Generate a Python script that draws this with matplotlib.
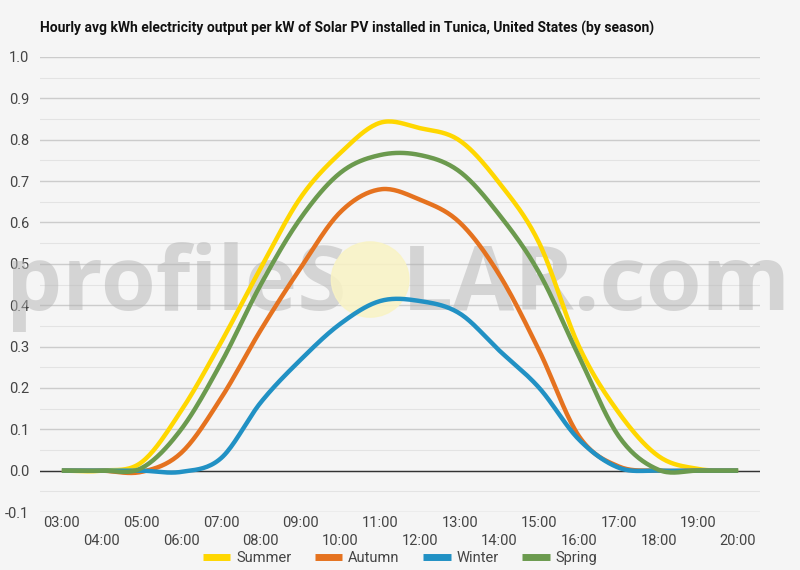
import numpy as np
import matplotlib
matplotlib.use("Agg")
import matplotlib.pyplot as plt
from matplotlib.patches import Ellipse

plt.rcParams['font.family'] = ['Roboto', 'DejaVu Sans']

hours = list(range(3, 21))
hour_labels = [f"{h:02d}:00" for h in hours]
summer = [0.0, 0.0, 0.02, 0.145, 0.31, 0.49, 0.66, 0.768, 0.841, 0.828, 0.798, 0.695, 0.55, 0.30, 0.14, 0.035, 0.004, 0.0]
autumn = [0.0, 0.0, -0.003, 0.043, 0.175, 0.34, 0.49, 0.625, 0.68, 0.655, 0.60, 0.473, 0.29, 0.083, 0.01, 0.0, 0.0, 0.0]
winter = [0.0, 0.0, 0.0, -0.003, 0.03, 0.165, 0.268, 0.355, 0.41, 0.41, 0.38, 0.29, 0.20, 0.075, 0.007, 0.0, 0.0, 0.0]
spring = [0.0, 0.0, 0.006, 0.10, 0.26, 0.45, 0.61, 0.72, 0.763, 0.763, 0.723, 0.618, 0.478, 0.276, 0.083, 0.002, 0.0, 0.0]
series_names = ["Summer", "Autumn", "Winter", "Spring"]
series_colors = ["#ffd700", "#e5721f", "#2191c4", "#6b9a4e"]
title = "Hourly avg kWh electricity output per kW of Solar PV installed in Tunica, United States (by season)"


def smooth(x, y, n=20):
    x = np.asarray(x, float)
    y = np.asarray(y, float)
    xp = np.concatenate([[2 * x[0] - x[1]], x, [2 * x[-1] - x[-2]]])
    yp = np.concatenate([[y[0]], y, [y[-1]]])
    xs, ys = [], []
    for i in range(1, len(xp) - 2):
        t = np.linspace(0, 1, n, endpoint=False)
        p0, p1, p2, p3 = yp[i - 1], yp[i], yp[i + 1], yp[i + 2]
        m1 = (p2 - p0) / 2
        m2 = (p3 - p1) / 2
        h00 = 2 * t**3 - 3 * t**2 + 1
        h10 = t**3 - 2 * t**2 + t
        h01 = -2 * t**3 + 3 * t**2
        h11 = t**3 - t**2
        ys.append(h00 * p1 + h10 * m1 + h01 * p2 + h11 * m2)
        xs.append(xp[i] + t * (xp[i + 1] - xp[i]))
    xs.append([x[-1]])
    ys.append([y[-1]])
    return np.concatenate(xs), np.concatenate(ys)


fig = plt.figure(figsize=(8, 5.7), dpi=100)
bg = "#f5f5f5"
fig.patch.set_facecolor(bg)
ax = fig.add_axes([0.05, 1 - 512 / 570, 0.90, (512 - 57) / 570])
ax.set_facecolor(bg)

ax.set_xlim(2.45, 20.55)
ax.set_ylim(-0.1, 1.0)

# grid
for v in np.arange(-0.1, 1.001, 0.1):
    ax.axhline(v, color="#cccccc", lw=1.0, zorder=0)
for v in np.arange(-0.05, 1.0, 0.1):
    ax.axhline(v, color="#e3e3e3", lw=0.8, zorder=0)
ax.axhline(0, color="#333333", lw=1.0, zorder=1)

# watermark
wm_kw = dict(color="#b4b4b4", alpha=0.5, va="baseline", zorder=2,
             transform=ax.transData, family=['Open Sans', 'DejaVu Sans'], fontweight="bold")
ax.text(1.60, 0.389, "profileS", ha="left", fontsize=64, **wm_kw)
ax.text(11.55, 0.389, "LAR.com", ha="left", fontsize=65, **wm_kw)
circ = Ellipse((10.75, 0.462), 1.95, 0.182, color="#f9f3c4", alpha=0.85, zorder=2)
ax.add_patch(circ)

for name, vals, col in zip(series_names, [summer, autumn, winter, spring], series_colors):
    xs, ys = smooth(hours, vals)
    ax.plot(xs, ys, color=col, lw=3.2, label=name, zorder=3, solid_capstyle="butt")

ax.set_yticks(np.round(np.arange(-0.1, 1.001, 0.1), 1))
ax.set_yticklabels([f"{v:.1f}" for v in np.arange(-0.1, 1.001, 0.1)], fontsize=10.5, color="#444444")
ax.set_xticks(hours)
ax.set_xticklabels(["" for _ in hours])
for h, lab in zip(hours, hour_labels):
    yoff = -0.126 if h % 2 == 1 else -0.171
    ax.text(h, yoff, lab, ha="center", va="center", fontsize=10.5, color="#444444",
            transform=ax.transData, clip_on=False)
ax.tick_params(length=0, pad=8)
for s in ax.spines.values():
    s.set_visible(False)

fig.text(0.05, 1 - 28 / 570, title, fontsize=10, fontweight="bold", color="#111111",
         ha="left", va="center")

leg = fig.legend(loc="center", bbox_to_anchor=(0.5, 1 - 558 / 570), ncol=4, frameon=False,
                 fontsize=10.5, handlelength=1.9, columnspacing=1.6, handletextpad=0.4,
                 borderaxespad=0)
for t in leg.get_texts():
    t.set_color("#444444")
for l in leg.get_lines():
    l.set_linewidth(5)

fig.savefig("out.png", dpi=100, facecolor=bg)
